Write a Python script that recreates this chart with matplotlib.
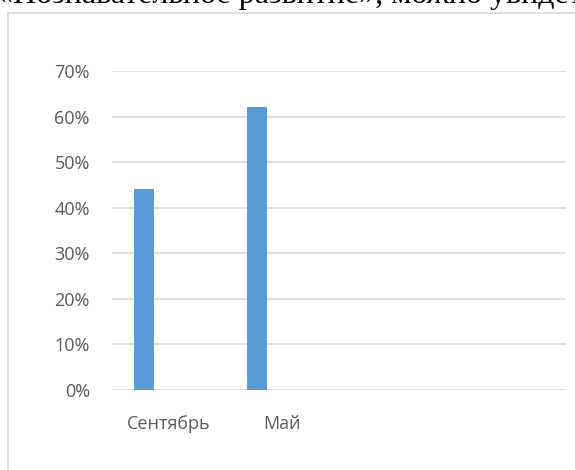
import matplotlib
matplotlib.use("Agg")
import matplotlib.pyplot as plt
from matplotlib.lines import Line2D
from matplotlib.ticker import PercentFormatter
import numpy as np

categories = ["Сентябрь", "Май", "", ""]
values = [0.44, 0.62, np.nan, np.nan]
y_ticks = [0, 0.1, 0.2, 0.3, 0.4, 0.5, 0.6, 0.7]
header_text = "«Познавательное развитие», можно увидеть"

W, H = 575, 470
fig = plt.figure(figsize=(W / 100, H / 100), dpi=100)
fig.patch.set_facecolor("white")

# page text above the chart, clipped by the figure edge
fig.text(-3 / W, 1 - 3 / H, header_text, fontsize=23, family="Liberation Serif",
         color="black", va="baseline", ha="left")

# chart frame (only left and top visible)
fig.add_artist(Line2D([8 / W, 8 / W], [0, 1 - 13 / H], color="#d9d9d9", lw=1.2,
                      transform=fig.transFigure))
fig.add_artist(Line2D([8 / W, 1.02], [1 - 13 / H, 1 - 13 / H], color="#d9d9d9", lw=1.2,
                      transform=fig.transFigure))

ax = fig.add_axes([112 / W, (H - 390) / H, 454 / W, 319 / H])
x = np.arange(len(categories))
ax.bar(x - 0.22, values, width=0.176, color="#5b9bd5", zorder=3)

ax.set_xlim(-0.5, len(categories) - 0.5)
ax.set_ylim(0, 0.7)
ax.set_yticks(y_ticks)
ax.yaxis.set_major_formatter(PercentFormatter(1.0, decimals=0))
ax.set_xticks(x)
ax.set_xticklabels(categories)
ax.grid(axis="y", color="#d9d9d9", lw=1.2, zorder=0)
for s in ax.spines.values():
    s.set_visible(False)
ax.tick_params(length=0, colors="#595959", labelsize=13)
ax.tick_params(axis="y", pad=16)
ax.tick_params(axis="x", pad=18)
for lab in ax.get_xticklabels() + ax.get_yticklabels():
    lab.set_family("Open Sans")

fig.savefig("out.png", dpi=100)
